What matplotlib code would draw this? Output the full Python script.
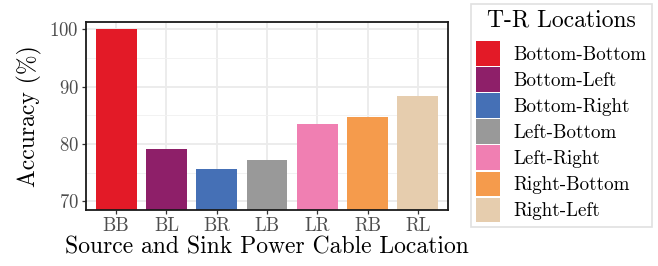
import matplotlib
matplotlib.use("Agg")
import matplotlib.pyplot as plt
from matplotlib.patches import Patch
from matplotlib.ticker import MultipleLocator

codes = ["BB", "BL", "BR", "LB", "LR", "RB", "RL"]
names = ["Bottom-Bottom", "Bottom-Left", "Bottom-Right", "Left-Bottom",
         "Left-Right", "Right-Bottom", "Right-Left"]
accuracy = [100.0, 79.1, 75.6, 77.2, 83.5, 84.7, 88.35]
colors = ["#e31a27", "#8e1f69", "#4570b6", "#999999",
          "#f07fb2", "#f59b4c", "#e6cdae"]

plt.rcParams["font.family"] = ["cmr10", "DejaVu Serif"]
plt.rcParams["axes.formatter.use_mathtext"] = True

fig = plt.figure(figsize=(6.58, 2.66), dpi=100)
ax = fig.add_axes([86 / 658, 1 - 210 / 266, 362 / 658, 188 / 266])

x = list(range(len(codes)))
ax.bar(x, accuracy, width=0.81, color=colors, zorder=3)
ax.set_xlim(-0.6, 6.6)
ax.set_ylim(68.5, 101.3)
ax.set_xticks(x)
ax.set_xticklabels(codes)
ax.yaxis.set_major_locator(MultipleLocator(10))
ax.yaxis.set_minor_locator(MultipleLocator(5))
ax.grid(which="major", color="#ebebeb", linewidth=1.3, zorder=0)
ax.grid(which="minor", axis="y", color="#f2f2f2", linewidth=0.7, zorder=0)
ax.tick_params(which="minor", length=0)
ax.tick_params(which="major", length=3.2, width=0.9, color="#333333",
               labelcolor="#4d4d4d", labelsize=13.5, pad=2)
for s in ax.spines.values():
    s.set_color("#1a1a1a")
    s.set_linewidth(1.3)
    s.set_zorder(4)

ax.set_ylabel("Accuracy (%)", fontsize=17, labelpad=5)
ax.set_xlabel("Source and Sink Power Cable Location", fontsize=17, labelpad=1)

handles = [Patch(facecolor=c, edgecolor="none") for c in colors]
leg = fig.legend(handles, names, title="T-R Locations",
                 loc="upper left", bbox_to_anchor=(471 / 658, 1 - 4 / 266),
                 fontsize=13.7, title_fontsize=17, frameon=True,
                 fancybox=False, edgecolor="#d9d9d9", handlelength=1.27,
                 handleheight=1.6, handletextpad=0.7, labelspacing=0.085,
                 borderpad=0.28, borderaxespad=0)
leg.get_frame().set_linewidth(1.2)
# extra room between legend title and the keys, as in the original
leg._legend_box.sep = 7

fig.savefig("out.png", dpi=100)
